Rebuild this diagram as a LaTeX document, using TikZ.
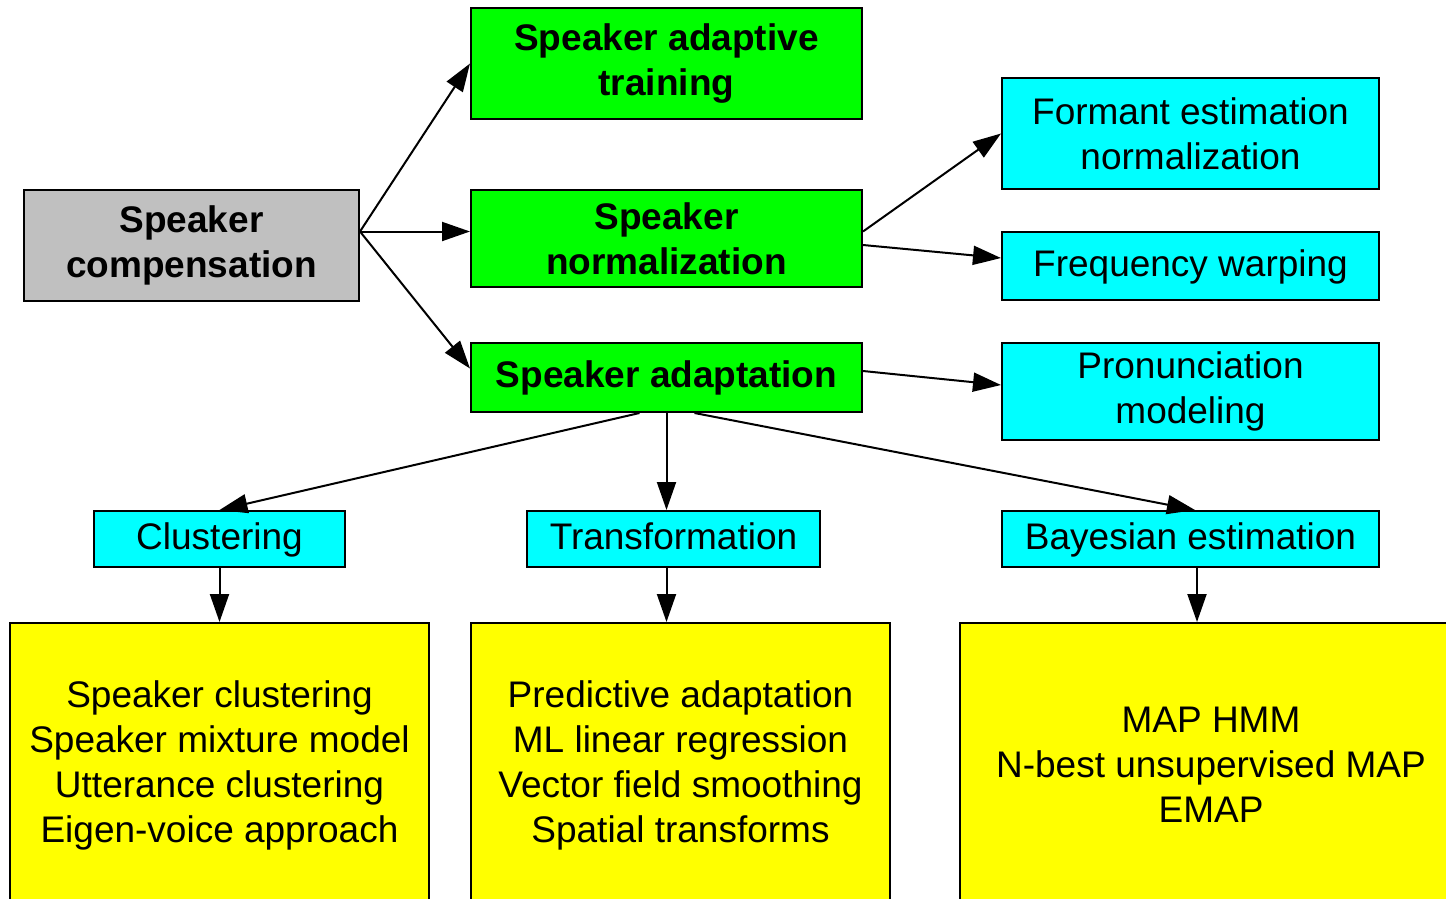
\documentclass[tikz,border=0pt]{standalone}
\usepackage{fontspec}
\setmainfont{Liberation Sans}
\usetikzlibrary{arrows.meta}
\definecolor{boxgray}{HTML}{C0C0C0}
\definecolor{boxgreen}{HTML}{00FF00}
\definecolor{boxcyan}{HTML}{00FFFF}
\definecolor{boxyellow}{HTML}{FFFF00}
\tikzset{
  box/.style={draw,line width=2pt,inner sep=0pt,align=center,
    font=\fontsize{37}{45}\selectfont},
  hbox/.style={box,font=\fontsize{37}{45}\selectfont\bfseries},
  oneline/.style={text height=28pt,text depth=8pt},
  arr/.style={line width=2pt,-{Triangle[length=28pt,width=19pt]}}
}
\begin{document}
\begin{tikzpicture}[x=1pt,y=-1pt]
  \clip (0,0) rectangle (1446,898);
  \node[hbox,fill=boxgray,minimum width=335pt,minimum height=111pt] (comp) at (191.5,245.5) {Speaker\\compensation};
  \node[hbox,fill=boxgreen,minimum width=391pt,minimum height=111pt] (sat) at (666.5,63.5) {Speaker adaptive\\training};
  \node[hbox,fill=boxgreen,minimum width=391pt,minimum height=97pt] (snorm) at (666.5,238.5) {Speaker\\normalization};
  \node[hbox,oneline,fill=boxgreen,minimum width=391pt,minimum height=69pt] (sadapt) at (666.5,377.5) {Speaker adaptation};
  \node[box,fill=boxcyan,minimum width=377pt,minimum height=111pt] (formant) at (1190.5,133.5) {Formant estimation\\normalization};
  \node[box,oneline,fill=boxcyan,minimum width=377pt,minimum height=68pt] (warp) at (1190.5,266) {Frequency warping};
  \node[box,fill=boxcyan,minimum width=377pt,minimum height=97pt] (pron) at (1190.5,391.5) {Pronunciation\\modeling};
  \node[box,oneline,fill=boxcyan,minimum width=251pt,minimum height=56pt] (clust) at (219.5,539) {Clustering};
  \node[box,oneline,fill=boxcyan,minimum width=293pt,minimum height=56pt] (trans) at (673.5,539) {Transformation};
  \node[box,oneline,fill=boxcyan,minimum width=377pt,minimum height=56pt] (bayes) at (1190.5,539) {Bayesian estimation};
  \node[box,fill=boxyellow,minimum width=419pt,minimum height=284pt] (meth1) at (219.5,765) {Speaker clustering\\Speaker mixture model\\Utterance clustering\\Eigen-voice approach};
  \node[box,fill=boxyellow,minimum width=419pt,minimum height=284pt] (meth2) at (680.5,765) {Predictive adaptation\\ML linear regression\\Vector field smoothing\\Spatial transforms};
  \node[box,fill=boxyellow,minimum width=502pt,minimum height=284pt] (meth3) at (1211,765) {MAP HMM\\N-best unsupervised MAP\\EMAP};
  % connectors
  \coordinate (out) at ([yshift=14pt]comp.east);
  \draw[arr] (out) -- (sat.west);
  \draw[arr] (out) -- (out -| snorm.west);
  \draw[arr] (out) -- ([yshift=9pt]sadapt.west);
  \draw[arr] ([yshift=7pt]snorm.east) -- (formant.west);
  \draw[arr] ([yshift=-6.5pt]snorm.east) -- ([yshift=8pt]warp.west);
  \draw[arr] ([yshift=6.5pt]sadapt.east) -- ([yshift=6.5pt]pron.west);
  \draw[arr] ([xshift=-27pt]sadapt.south) -- (clust.north);
  \draw[arr] (sadapt.south) -- (sadapt.south |- trans.north);
  \draw[arr] ([xshift=28pt]sadapt.south) -- ([xshift=4.5pt]bayes.north);
  \draw[arr] (clust.south) -- (meth1.north);
  \draw[arr] (sadapt.south |- trans.south) -- (sadapt.south |- meth2.north);
  \draw[arr] ([xshift=6.5pt]bayes.south) -- ([xshift=6.5pt]bayes.south |- meth3.north);
\end{tikzpicture}
\end{document}
